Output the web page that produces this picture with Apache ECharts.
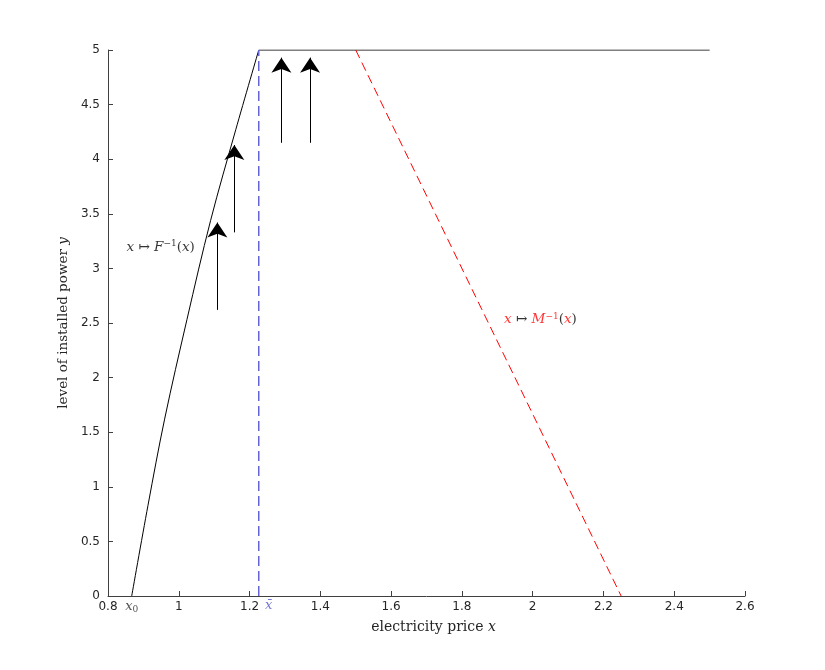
<!DOCTYPE html>
<html>
<head>
<meta charset="utf-8">
<script src="https://cdn.jsdelivr.net/npm/echarts@6/dist/echarts.min.js"></script>
<style>html,body{margin:0;padding:0;background:#fff}#c{width:825px;height:670px}</style>
</head>
<body>
<div id="c"></div>
<script>
// ---- data ----
const x0 = 0.867;          // price where supply curve starts
const xBar = 1.226;        // price where capacity is reached
const yMax = 5;            // installed-power cap
const xCapEnd = 2.5;       // end of capacity line

// supply curve x -> F^{-1}(x)
const fInvX = [0.867, 0.913, 0.960, 1.023, 1.090, 1.161, 1.226];
const fInvY = [0, 0.83, 1.62, 2.53, 3.44, 4.27, 5];

// demand line x -> M^{-1}(x)
const mInvX = [1.5, 2.25];
const mInvY = [5, 0];

// arrows (vertical)
const arrowX    = [1.109, 1.157, 1.290, 1.371];
const arrowFrom = [2.62, 3.33, 4.15, 4.15];
const arrowTo   = [3.42, 4.13, 4.93, 4.93];

// annotations
const annotX = [0.949, 2.022];
const annotY = [3.19, 2.53];
const annotText = ['{i|x} \u21A6 {i|F}{s|\u22121}({i|x})', '{ri|x} \u21A6 {ri|M}{rs|\u22121}({ri|x})'];

const serif = '"DejaVu Serif", "Liberation Serif", serif';
const sans = '"DejaVu Sans", sans-serif';
const axisCol = '#404040';

const chart = echarts.init(document.getElementById('c'));
chart.setOption({
  animation: false,
  backgroundColor: '#fff',
  grid: {left: 108, right: 80, top: 50, bottom: 74, containLabel: false},
  xAxis: {
    type: 'value', min: 0.8, max: 2.6, interval: 0.2,
    name: 'electricity price {i|x}', nameLocation: 'middle', nameGap: 24,
    nameTextStyle: {fontFamily: serif, fontSize: 14, color: '#262626', padding: [0, 0, 0, 14],
      rich: {i: {fontFamily: serif, fontStyle: 'italic', fontSize: 14, color: '#262626'}}},
    axisLine: {show: true, lineStyle: {color: axisCol, width: 1}},
    axisTick: {show: true, inside: true, length: 5, lineStyle: {color: axisCol}},
    axisLabel: {fontFamily: sans, fontSize: 12, color: '#262626', margin: 5,
      formatter: v => String(Math.round(v * 10) / 10)},
    splitLine: {show: false}
  },
  yAxis: {
    type: 'value', min: 0, max: 5, interval: 0.5,
    name: 'level of installed power {i|y}', nameLocation: 'middle', nameGap: 36,
    nameTextStyle: {fontFamily: serif, fontSize: 13.5, color: '#262626',
      rich: {i: {fontFamily: serif, fontStyle: 'italic', fontSize: 13.5, color: '#262626'}}},
    axisLine: {show: true, lineStyle: {color: axisCol, width: 1}},
    axisTick: {show: true, inside: true, length: 5, lineStyle: {color: axisCol}},
    axisLabel: {fontFamily: sans, fontSize: 12, color: '#262626', margin: 8,
      formatter: v => String(Math.round(v * 10) / 10)},
    splitLine: {show: false}
  },
  series: [
    {
      name: 'Finv', type: 'line', smooth: 0.35, symbol: 'none',
      data: fInvX.map((x, i) => [x, fInvY[i]]),
      lineStyle: {color: '#000', width: 1}
    },
    {
      name: 'cap', type: 'line', symbol: 'none',
      data: [[xBar, yMax], [xCapEnd, yMax]],
      lineStyle: {color: '#000', width: 1}
    },
    {
      name: 'xbar', type: 'line', symbol: 'none',
      data: [[xBar, 0], [xBar, yMax]],
      lineStyle: {color: '#6464d4', width: 1.5, type: [10, 5]}
    },
    {
      name: 'Minv', type: 'line', symbol: 'none',
      data: mInvX.map((x, i) => [x, mInvY[i]]),
      lineStyle: {color: '#ff0000', width: 1, type: [9, 5]}
    },
    {
      name: 'arrows', type: 'lines', coordinateSystem: 'cartesian2d',
      symbol: ['none', 'arrow'], symbolSize: [8, 15],
      lineStyle: {color: '#000', width: 1, opacity: 1},
      data: arrowX.map((x, i) => ({coords: [[x, arrowFrom[i]], [x, arrowTo[i]]]}))
    },
    {
      name: 'annot', type: 'scatter', symbolSize: 0, silent: true,
      data: annotX.map((x, i) => ({value: [x, annotY[i]], label: {formatter: annotText[i]}})),
      label: {show: true, position: 'inside',
        rich: {
          i: {fontFamily: serif, fontStyle: 'italic', fontSize: 13.5, color: '#000'},
          s: {fontFamily: serif, fontSize: 9, color: '#000', verticalAlign: 'top', padding: [0, 0, 7, 0]},
          ri: {fontFamily: serif, fontStyle: 'italic', fontSize: 13.5, color: '#ff0000'},
          rs: {fontFamily: serif, fontSize: 9, color: '#ff0000', verticalAlign: 'top', padding: [0, 0, 7, 0]}
        },
        fontFamily: serif, fontSize: 13.5, color: '#000'
      }
    },
    {
      name: 'specialTicks', type: 'scatter', symbolSize: 0, silent: true,
      data: [
        {value: [x0, 0], label: {formatter: '{i|x}{s|0}', offset: [0, 0]}},
        {value: [xBar, 0], label: {formatter: '{b|x\u0304}', offset: [10, 0]}}
      ],
      label: {show: true, position: 'bottom', distance: 3,
        rich: {
          i: {fontFamily: serif, fontStyle: 'italic', fontSize: 13, color: '#262626'},
          s: {fontFamily: serif, fontSize: 9, color: '#262626', padding: [6, 0, 0, 0]},
          b: {fontFamily: serif, fontStyle: 'italic', fontSize: 13, color: '#5050d0'}
        }
      }
    }
  ]
});
</script>
</body>
</html>
